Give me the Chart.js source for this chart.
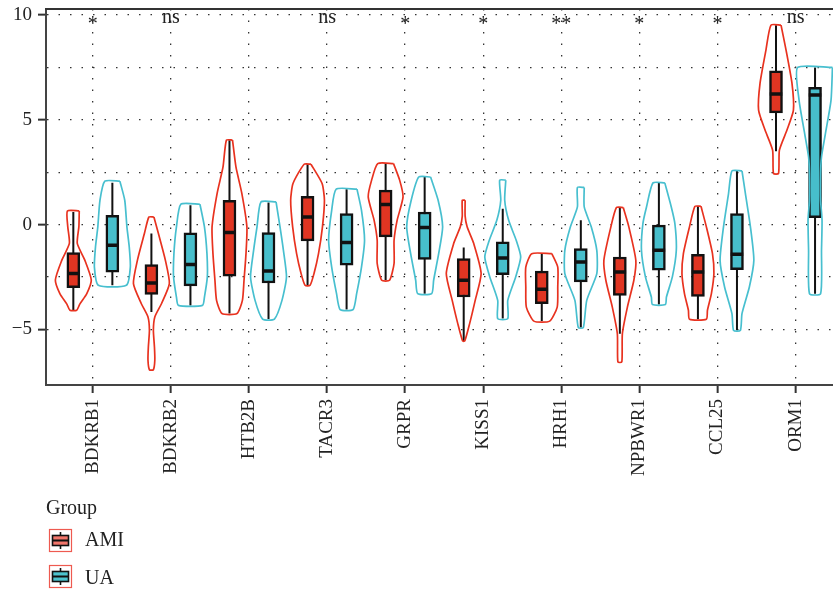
<!DOCTYPE html>
<html>
<head>
<meta charset="utf-8">
<title>Expresión por grupo</title>
<script src="https://cdn.jsdelivr.net/npm/chart.js@4.4.1/dist/chart.umd.min.js"></script>
<style>
  html, body { margin: 0; padding: 0; background: #fff; overflow: hidden; }
  #wrap { position: relative; width: 833px; height: 595px; }
</style>
</head>
<body>
<div id="wrap"><canvas id="grafica" width="833" height="595"></canvas></div>
<script>
// 1. Datos
const genes = ["BDKRB1", "BDKRB2", "HTB2B", "TACR3", "GRPR", "KISS1", "HRH1", "NPBWR1", "CCL25", "ORM1"];
const groups = ["AMI", "UA"];
const sigLabels = ["*", "ns", "", "ns", "*", "*", "**", "*", "*", "ns"];
const yTicks = [-5, -2.5, 0, 2.5, 5, 7.5, 10];

// Boxplot AMI
const amiLow    = [-4.09, -4.17, -4.25, -2.90, -2.66, -5.56, -4.61, -5.21, -4.52, 3.50];
const amiQ1     = [-3.01, -3.33, -2.46, -0.78, -0.59, -3.46, -3.78, -3.38, -3.43, 5.33];
const amiMedian = [-2.34, -2.79, -0.38, 0.36, 0.96, -2.66, -3.09, -2.26, -2.26, 6.23];
const amiQ3     = [-1.34, -1.91, 1.16, 1.35, 1.64, -1.62, -2.22, -1.55, -1.42, 7.34];
const amiHigh   = [0.60, -0.43, 4.03, 2.88, 2.91, -1.10, -1.39, 0.81, 0.87, 9.52];

// Boxplot UA
const uaLow    = [-2.90, -3.86, -4.51, -4.06, -3.30, -4.49, -4.92, -3.82, -5.05, -3.30];
const uaQ1     = [-2.27, -2.93, -2.79, -1.94, -1.67, -2.39, -2.74, -2.18, -2.15, 0.33];
const uaMedian = [-0.99, -1.91, -2.22, -0.86, -0.14, -1.60, -1.79, -1.23, -1.42, 6.18];
const uaQ3     = [0.44, -0.40, -0.38, 0.52, 0.60, -0.83, -1.15, -0.03, 0.52, 6.55];
const uaHigh   = [2.00, 0.92, 1.05, 1.69, 2.27, 0.76, 0.20, 1.99, 2.56, 7.50];

// Violines: niveles (de arriba a abajo) y densidad relativa en cada nivel
const amiViolinY = [
  [0.65, -0.1, -0.9, -1.7, -2.65, -3.3, -3.8, -4.09],
  [0.36, -0.43, -1.71, -2.82, -3.78, -4.41, -5.05, -5.85, -6.48, -6.93],
  [4.03, 2.75, 1.48, -0.11, -1.39, -2.66, -3.62, -4.25],
  [2.88, 1.96, 1.16, -0.11, -1.39, -2.34, -2.9],
  [2.91, 2.12, 1.32, 0.2, -0.75, -1.86, -2.66],
  [1.16, 0.4, -0.11, -0.91, -2.34, -3.62, -4.73, -5.56],
  [-1.39, -2.03, -2.98, -3.94, -4.61],
  [0.81, -0.11, -1.71, -2.66, -3.94, -5.21, -6.56],
  [0.87, -0.11, -1.39, -2.34, -3.3, -4.09, -4.52],
  [9.52, 8.33, 6.74, 5.46, 4.51, 3.55, 2.44]
];
const amiViolinW = [
  [0.33, 0.31, 0.22, 0.64, 1.0, 0.75, 0.36, 0.19],
  [0.14, 0.39, 0.78, 1.0, 0.56, 0.19, 0.11, 0.17, 0.19, 0.11],
  [0.17, 0.36, 0.69, 0.97, 0.92, 0.81, 0.72, 0.42],
  [0.19, 0.81, 0.94, 0.83, 0.61, 0.36, 0.14],
  [0.44, 0.78, 0.97, 0.64, 0.47, 0.47, 0.22],
  [0.08, 0.08, 0.19, 0.56, 0.97, 0.64, 0.33, 0.06],
  [0.56, 0.89, 0.89, 0.86, 0.44],
  [0.19, 0.5, 0.89, 0.78, 0.42, 0.14, 0.11],
  [0.17, 0.47, 0.81, 0.89, 0.75, 0.53, 0.47],
  [0.28, 0.56, 0.89, 0.97, 0.61, 0.19, 0.14]
];
const uaViolinY = [
  [2.07, 1.16, -0.11, -1.07, -2.03, -2.9],
  [0.97, -0.11, -1.39, -2.5, -3.46, -3.86],
  [1.08, -0.11, -1.23, -2.5, -3.62, -4.51],
  [1.69, 0.68, -0.75, -2.03, -3.3, -4.06],
  [2.27, 1.16, -0.11, -1.39, -2.66, -3.3],
  [2.12, 1.16, 0.2, -0.75, -1.55, -2.5, -3.62, -4.49],
  [1.77, 0.84, -0.11, -1.23, -2.34, -3.62, -4.92],
  [1.99, 0.84, 0.05, -1.23, -2.5, -3.46, -3.82],
  [2.56, 1.48, -0.11, -1.71, -2.98, -4.25, -5.05],
  [7.5, 5.94, 4.35, 3.23, 2.44, 1.16, 0.2, -1.23, -3.3]
];
const uaViolinW = [
  [0.42, 0.69, 0.81, 0.94, 1.0, 0.78],
  [0.53, 0.78, 0.92, 0.94, 0.78, 0.67],
  [0.42, 0.64, 0.83, 1.0, 0.75, 0.33],
  [0.58, 0.83, 1.0, 0.83, 0.56, 0.36],
  [0.33, 0.75, 1.0, 0.78, 0.5, 0.39],
  [0.17, 0.11, 0.33, 0.75, 1.0, 0.72, 0.28, 0.28],
  [0.19, 0.19, 0.58, 0.89, 0.89, 0.33, 0.14],
  [0.33, 0.69, 0.89, 0.97, 0.75, 0.42, 0.36],
  [0.28, 0.47, 0.75, 0.94, 0.69, 0.28, 0.19],
  [0.97, 0.89, 0.58, 0.36, 0.31, 0.31, 0.39, 0.36, 0.31]
];

// 2. Estilo
const SERIF = "'Liberation Serif', 'DejaVu Serif', serif";
const colores = {
  AMI: { line: "#E8321F", fill: "#E03522", key: "#F2766B" },
  UA:  { line: "#47BFCF", fill: "#47BECB", key: "#4CC3CE" }
};
const OFFSET = 0.25;    // desplazamiento de cada grupo
const HALF_W = 0.23;    // media anchura máxima del violín (unidades x)
const BOX_HALF = 0.08;  // media anchura de la caja
const SIG_Y = 9.6;

Chart.defaults.font.family = SERIF;
Chart.defaults.color = "#222";

// 3. Construcción de datasets
function violinData(pos, ys, ws) {
  const right = ys.map((y, k) => ({ x: pos + ws[k] * HALF_W, y: y }));
  const left = ys.map((y, k) => ({ x: pos - ws[k] * HALF_W, y: y })).reverse();
  return right.concat(left, [right[0]]);
}

function datasetsGrupo(nombre, sign, low, q1, med, q3, high, vY, vW) {
  const c = colores[nombre];
  const violin = [], whisk = [], medians = [];
  genes.forEach((g, i) => {
    const pos = i + sign * OFFSET;
    violin.push(...violinData(pos, vY[i], vW[i]), { x: pos, y: null });
    whisk.push({ x: pos, y: high[i] }, { x: pos, y: low[i] }, { x: pos, y: null });
    medians.push({ x: pos - BOX_HALF, y: med[i] }, { x: pos + BOX_HALF, y: med[i] }, { x: pos, y: null });
  });
  return [
    {
      type: "line", label: nombre + " violin", data: violin, order: 0,
      borderColor: c.line, borderWidth: 1.7, pointRadius: 0, fill: false,
      tension: 0.2, spanGaps: false
    },
    {
      type: "line", label: nombre + " median", data: medians, order: 1,
      borderColor: "#111", borderWidth: 3.5, pointRadius: 0, fill: false,
      spanGaps: false, borderCapStyle: "butt"
    },
    {
      type: "bar", label: nombre, order: 2,
      data: genes.map((g, i) => ({ x: i + sign * OFFSET, y: [q1[i], q3[i]] })),
      backgroundColor: c.fill, borderColor: "#111", borderWidth: 2.5,
      borderSkipped: false, barThickness: 13, grouped: false
    },
    {
      type: "line", label: nombre + " whisker", data: whisk, order: 3,
      borderColor: "#111", borderWidth: 2, pointRadius: 0, fill: false, spanGaps: false
    }
  ];
}

// 4. Plugin: borde superior, significancia y leyenda
const extrasPlugin = {
  id: "extras",
  afterDraw(chart) {
    const { ctx, chartArea, scales } = chart;
    ctx.save();
    ctx.strokeStyle = "#333";
    ctx.lineWidth = 2;
    ctx.beginPath();
    ctx.moveTo(chartArea.left - 1, chartArea.top);
    ctx.lineTo(chartArea.right, chartArea.top);
    ctx.stroke();

    ctx.fillStyle = "#222";
    ctx.font = "20px " + SERIF;
    ctx.textAlign = "center";
    ctx.textBaseline = "alphabetic";
    sigLabels.forEach((lab, i) => {
      if (!lab) return;
      const x = scales.x.getPixelForValue(i);
      let y = scales.y.getPixelForValue(SIG_Y);
      if (lab.charAt(0) === "*") y += 7;
      ctx.fillText(lab, x, y);
    });

    // leyenda
    ctx.textAlign = "left";
    ctx.fillText("Group", 46, 514);
    groups.forEach((g, k) => {
      const top = 529 + k * 36;
      const left = 49;
      ctx.strokeStyle = "#EE5A50";
      ctx.lineWidth = 1.2;
      ctx.strokeRect(left + 0.5, top + 0.5, 22, 22);
      ctx.strokeStyle = "#111";
      ctx.lineWidth = 1.6;
      ctx.beginPath();
      ctx.moveTo(left + 11.5, top + 3);
      ctx.lineTo(left + 11.5, top + 20);
      ctx.stroke();
      ctx.fillStyle = colores[g].key;
      ctx.fillRect(left + 3.5, top + 6.5, 16, 10);
      ctx.strokeRect(left + 3.5, top + 6.5, 16, 10);
      ctx.lineWidth = 2;
      ctx.beginPath();
      ctx.moveTo(left + 3.5, top + 11.5);
      ctx.lineTo(left + 19.5, top + 11.5);
      ctx.stroke();
      ctx.fillStyle = "#222";
      ctx.fillText(g, 85, top + 17 + k * 2);
    });
    ctx.restore();
  }
};

// 5. Gráfica
function crearGrafica() {
  const ctx = document.getElementById("grafica").getContext("2d");
  const datasets = [].concat(
    datasetsGrupo("AMI", -1, amiLow, amiQ1, amiMedian, amiQ3, amiHigh, amiViolinY, amiViolinW),
    datasetsGrupo("UA", 1, uaLow, uaQ1, uaMedian, uaQ3, uaHigh, uaViolinY, uaViolinW)
  );

  new Chart(ctx, {
    type: "bar",
    data: { datasets: datasets },
    options: {
      responsive: false,
      animation: false,
      layout: { padding: { top: 9, left: 0, right: 0, bottom: 0 } },
      scales: {
        x: {
          type: "linear",
          offset: false,
          min: -0.6,
          max: 9.48,
          afterBuildTicks: (s) => { s.ticks = genes.map((g, i) => ({ value: i })); },
          afterFit: (s) => { s.height = 210; s.paddingLeft = 0; s.paddingRight = 0; },
          ticks: {
            callback: (v) => genes[v],
            minRotation: 90, maxRotation: 90, autoSkip: false,
            padding: 6, color: "#222", font: { size: 19 }
          },
          grid: { offset: false, color: "#333", lineWidth: 1.3, tickLength: 8, tickWidth: 2, tickColor: "#333" },
          border: { display: true, color: "#444", width: 2, dash: [1.5, 10] }
        },
        y: {
          min: -7.66,
          max: 10.29,
          afterBuildTicks: (s) => { s.ticks = yTicks.map((v) => ({ value: v })); },
          afterFit: (s) => { s.width = 46; s.paddingTop = 0; s.paddingBottom = 0; },
          ticks: {
            callback: (v) => (v % 5 !== 0 ? "" : v < 0 ? "\u2212" + Math.abs(v) : String(v)),
            padding: 6, color: "#222", font: { size: 19 }
          },
          grid: {
            color: "#333", lineWidth: 1.3, tickLength: 8, tickWidth: 2,
            tickColor: (c) => (c.tick && c.tick.value % 5 === 0 ? "#333" : "rgba(0,0,0,0)")
          },
          border: { display: true, color: "#444", width: 2, dash: [1.5, 10] }
        }
      },
      plugins: { legend: { display: false }, tooltip: { enabled: false } }
    },
    plugins: [extrasPlugin]
  });
}

document.addEventListener("DOMContentLoaded", crearGrafica);
</script>
</body>
</html>
